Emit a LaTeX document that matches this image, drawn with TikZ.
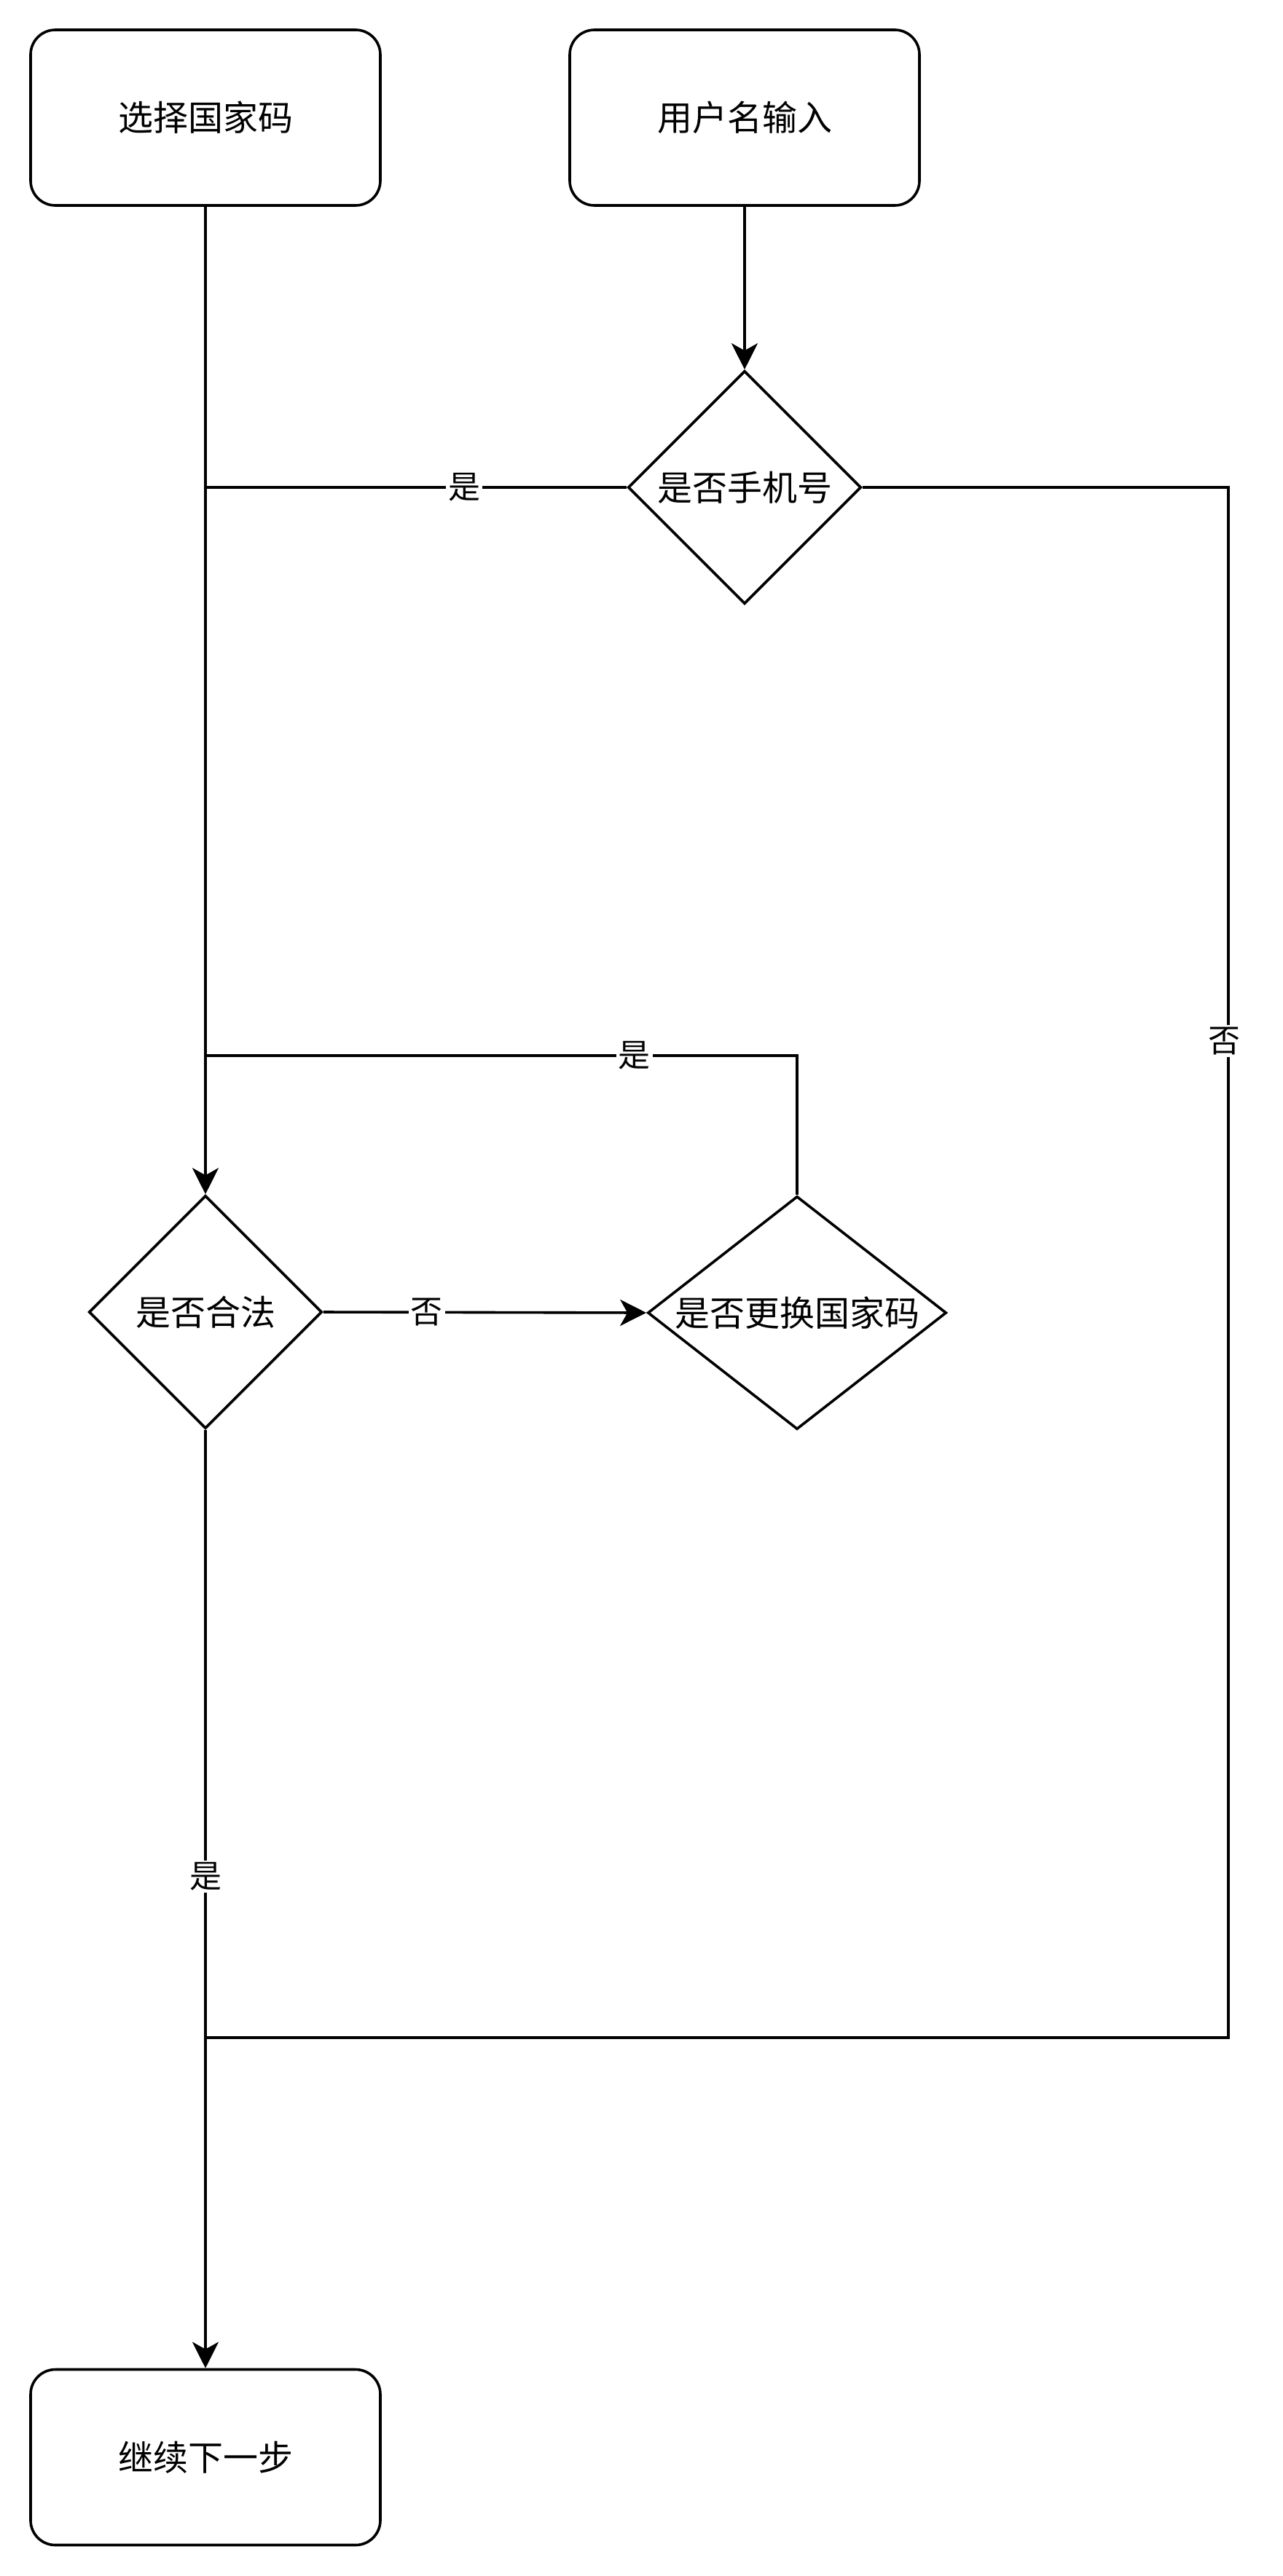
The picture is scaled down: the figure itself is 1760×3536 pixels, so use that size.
\documentclass[tikz,border=0pt]{standalone}
\usepackage{fontspec}
\setmainfont{Noto Sans CJK SC}
\usetikzlibrary{shapes.geometric,arrows.meta}
\begin{document}
\begin{tikzpicture}[x=0.5pt,y=-0.5pt,
  every path/.style={line width=1.8pt},
  box/.style={draw, line width=1.8pt, rounded corners=17pt, minimum width=240pt, minimum height=120.5pt, inner sep=0pt, font=\fontsize{24pt}{28pt}\selectfont},
  dia/.style={draw, line width=1.8pt, diamond, inner sep=0pt, minimum width=160pt, minimum height=160pt, font=\fontsize{24pt}{28pt}\selectfont},
  lbl/.style={fill=white, inner sep=1.5pt, font=\fontsize{22pt}{26pt}\selectfont},
  conn/.style={draw, line width=1.8pt},
  arr/.style={conn, -{Stealth[length=18pt, width=18pt, inset=5pt]}}
]
\useasboundingbox (0,0) rectangle (1760,3536);
\node[box] (b1) at (282,161.5) {选择国家码};
\node[box] (b2) at (1022,161.5) {用户名输入};
\node[dia] (d1) at (1022,669) {是否手机号};
\node[dia] (d2) at (282,1801) {是否合法};
\node[dia, shape aspect=1.28, minimum width=205pt] (d3) at (1094,1802) {是否更换国家码};
\node[box] (b3) at (282,3373) {继续下一步};
\coordinate (r1) at (1686,669);
\coordinate (r2) at (1686,2797);
\coordinate (j2) at (282,2797);
\coordinate (t3) at (1094,1449);
\coordinate (j3) at (282,1449);
\coordinate (j1) at (282,669);
% edges
\draw[arr] (b1.south) -- (d2.north);
\draw[arr] (b2.south) -- (d1.north);
\draw[conn] (d1.west) -- node[lbl, pos=0.386] {是} (j1);
\draw[conn] (d1.east) -- (r1) -- node[lbl, pos=0.357, xshift=-3pt] {否} (r2) -- (j2);
\draw[conn] (d3.north) -- (t3) -- node[lbl, pos=0.275] {是} (j3);
\draw[arr] (d2.east) -- node[lbl, pos=0.32] {否} (d3.west);
\draw[arr] (d2.south) -- node[lbl, pos=0.476] {是} (b3.north);
\end{tikzpicture}
\end{document}
